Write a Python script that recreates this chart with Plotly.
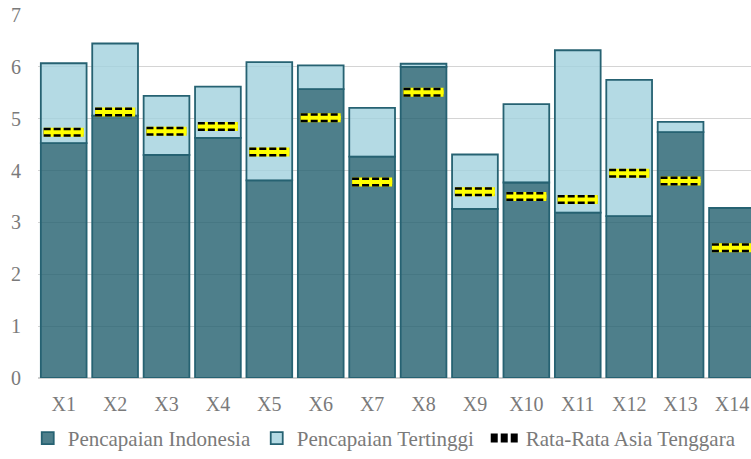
import plotly.graph_objects as go

# Indicator categories and scores
categories = ["X1", "X2", "X3", "X4", "X5", "X6", "X7", "X8", "X9", "X10", "X11", "X12", "X13", "X14"]
pencapaian_indonesia = [4.53, 5.06, 4.30, 4.63, 3.81, 5.57, 4.27, 6.00, 3.26, 3.77, 3.19, 3.12, 4.74, 3.28]
pencapaian_tertinggi = [6.07, 6.45, 5.44, 5.62, 6.09, 6.03, 5.21, 6.06, 4.31, 5.28, 6.32, 5.75, 4.94, 3.28]
rata_rata_asean = [4.74, 5.13, 4.76, 4.85, 4.36, 5.02, 3.78, 5.51, 3.59, 3.50, 3.44, 3.95, 3.80, 2.51]
y_ticks = [0, 1, 2, 3, 4, 5, 6, 7]

FONT = "Liberation Serif"
TEXT_GREY = "#7a7a7a"
EDGE = "rgb(38,98,114)"

xs = list(range(len(categories)))

fig = go.Figure()

# Indonesia's score, from zero
fig.add_trace(go.Bar(
    x=xs, y=pencapaian_indonesia,
    name="Pencapaian Indonesia",
    marker=dict(color="rgba(34,95,110,0.8)", line=dict(color=EDGE, width=1.8)),
))

# Highest score in the region, drawn as the part above Indonesia's score
fig.add_trace(go.Bar(
    x=xs,
    y=[t - i for t, i in zip(pencapaian_tertinggi, pencapaian_indonesia)],
    base=pencapaian_indonesia,
    name="Pencapaian Tertinggi",
    marker=dict(color="rgba(161,209,221,0.8)", line=dict(color=EDGE, width=1.8)),
))

# Southeast Asian average: short yellow dash with a dashed black border
half = 0.39
seg_x, seg_y = [], []
for i, v in zip(xs, rata_rata_asean):
    seg_x += [i - half, i + half, None]
    seg_y += [v, v, None]

fig.add_trace(go.Scatter(
    x=seg_x, y=seg_y, mode="lines", showlegend=False, hoverinfo="skip",
    line=dict(color="#ffff00", width=9),
))
fig.add_trace(go.Scatter(
    x=seg_x, y=seg_y, mode="lines", name="Rata-Rata Asia Tenggara",
    legendwidth=215,
    line=dict(color="#000000", width=9, dash="7px,3px"),
))
fig.add_trace(go.Scatter(
    x=seg_x, y=seg_y, mode="lines", showlegend=False, hoverinfo="skip",
    line=dict(color="#ffff00", width=4),
))

fig.update_layout(
    width=751, height=459,
    margin=dict(l=38, r=0, t=15, b=80.5),
    paper_bgcolor="white", plot_bgcolor="white",
    barmode="overlay", bargap=0.11,
    font=dict(family=FONT, size=20, color=TEXT_GREY),
    legend=dict(
        orientation="h", x=-0.0144, xanchor="left", y=-0.11, yanchor="top",
        font=dict(family=FONT, size=21, color=TEXT_GREY),
        itemwidth=30, traceorder="normal",
        entrywidth=184, entrywidthmode="pixels",
    ),
    xaxis=dict(
        range=[-0.5, 13.37],
        tickmode="array", tickvals=xs, ticktext=categories,
        showgrid=False, showline=False, zeroline=False,
        ticks="", ticklabelstandoff=12,
        tickfont=dict(family=FONT, size=20, color=TEXT_GREY),
    ),
    yaxis=dict(
        range=[0, 7], tickvals=y_ticks,
        showgrid=True, gridcolor="#d4d4d4", gridwidth=1.3,
        zeroline=True, zerolinecolor="#d0d0d0", zerolinewidth=2,
        showline=False, ticks="", ticklabelstandoff=16,
        tickfont=dict(family=FONT, size=20, color=TEXT_GREY),
    ),
)

fig.write_html("out.html")
